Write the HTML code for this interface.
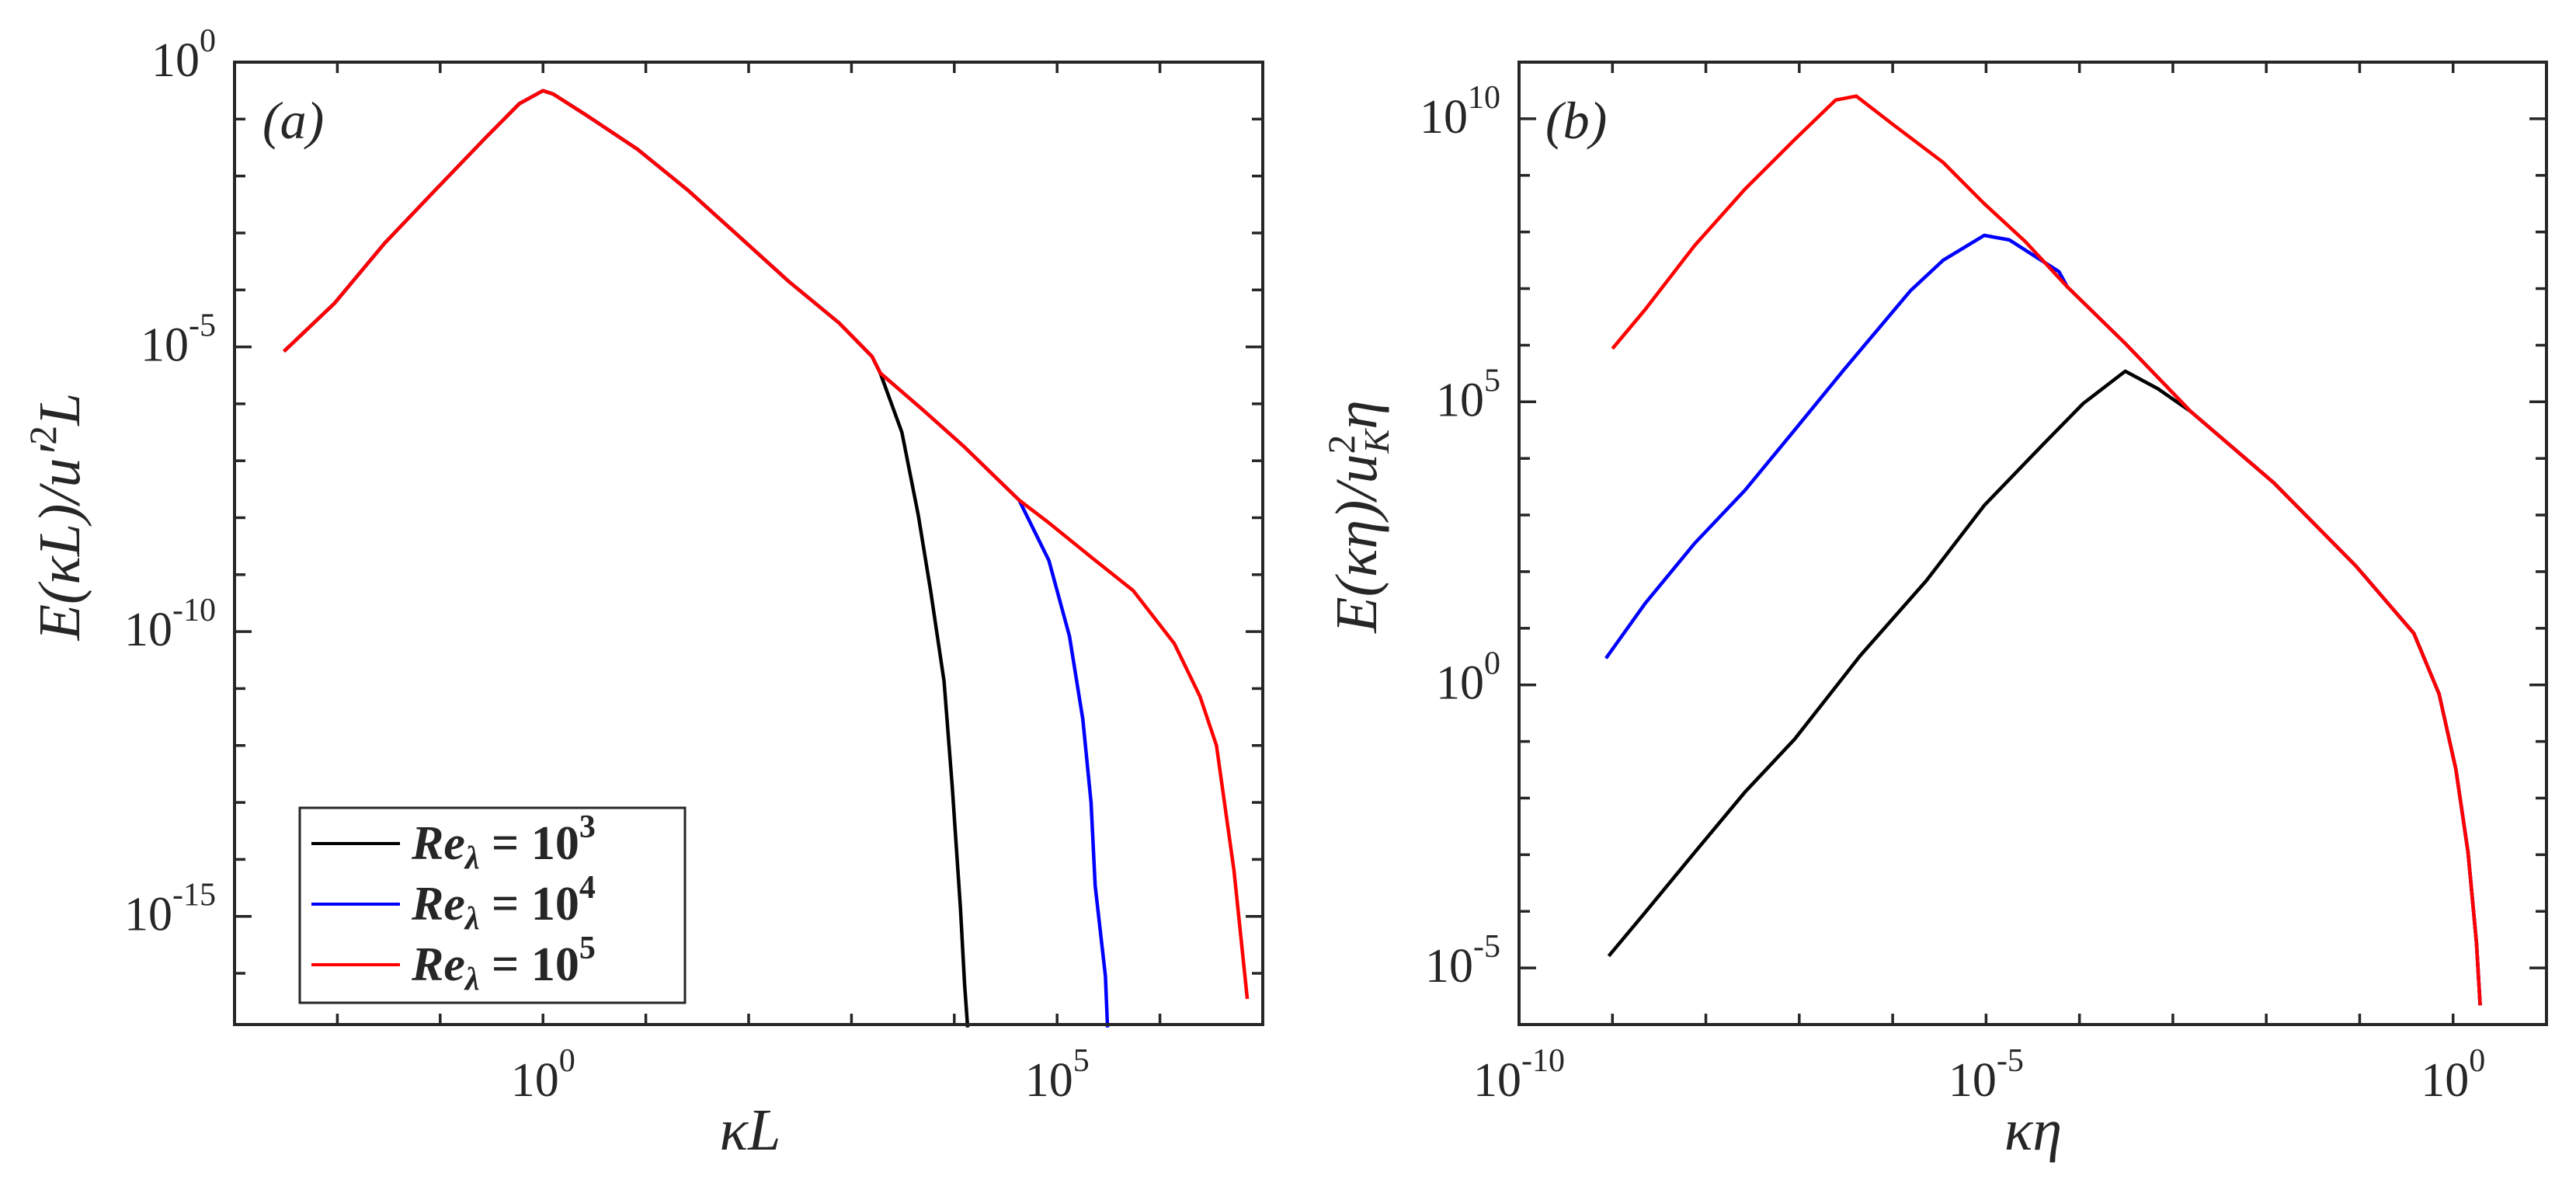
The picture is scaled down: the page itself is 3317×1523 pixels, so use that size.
<!DOCTYPE html>
<html><head><meta charset="utf-8"><style>
html,body{margin:0;padding:0;background:#fff;}
svg{display:block;}
text{font-family:"Liberation Serif","DejaVu Serif",serif;fill:#262626;}
</style></head><body>
<svg id="chart" width="3317" height="1523" viewBox="0 0 3317 1523" xmlns="http://www.w3.org/2000/svg"></svg>
<script>
// ---- Panel (a) data: log10(kL), log10(E) ----
const aRedX = [-2.52,-2.03,-1.54,-1.05,-0.56,-0.23,0,0.1,0.42,0.92,1.41,1.90,2.39,2.88,3.20,3.28,3.69,4.10,4.63,4.92,5.33,5.74,6.14,6.39,6.55,6.72,6.85];
const aRedY = [-5.08,-4.24,-3.18,-2.25,-1.33,-0.73,-0.50,-0.56,-0.93,-1.53,-2.25,-3.05,-3.85,-4.58,-5.17,-5.46,-6.10,-6.76,-7.69,-8.09,-8.69,-9.28,-10.21,-11.14,-12.0,-14.19,-16.45];
const aBlackX = [-2.52,-2.03,-1.54,-1.05,-0.56,-0.23,0,0.1,0.42,0.92,1.41,1.90,2.39,2.88,3.20,3.28,3.49,3.65,3.77,3.90,3.98,4.06,4.10,4.13];
const aBlackY = [-5.08,-4.24,-3.18,-2.25,-1.33,-0.73,-0.50,-0.56,-0.93,-1.53,-2.25,-3.05,-3.85,-4.58,-5.17,-5.46,-6.5,-7.96,-9.28,-10.87,-12.73,-14.85,-16.18,-16.95];
const aBlueX = [-2.52,-2.03,-1.54,-1.05,-0.56,-0.23,0,0.1,0.42,0.92,1.41,1.90,2.39,2.88,3.20,3.28,3.69,4.10,4.63,4.92,5.12,5.25,5.33,5.37,5.47,5.49];
const aBlueY = [-5.08,-4.24,-3.18,-2.25,-1.33,-0.73,-0.50,-0.56,-0.93,-1.53,-2.25,-3.05,-3.85,-4.58,-5.17,-5.46,-6.10,-6.76,-7.69,-8.75,-10.08,-11.54,-13.0,-14.46,-16.05,-16.95];
// ---- Panel (b) data: log10(k eta), log10(E) ----
const tailX = [-3.51,-2.81,-1.92,-1.04,-0.42,-0.15,0.03,0.16,0.25,0.29];
const tailY = [6.03,4.83,3.57,2.10,0.91,-0.16,-1.49,-2.96,-4.55,-5.66];
const bRedX = [-9.0,-8.65,-8.12,-7.58,-7.05,-6.61,-6.39,-5.99,-5.46,-5.02,-4.58,-4.13].concat(tailX);
const bRedY = [5.94,6.63,7.76,8.76,9.63,10.33,10.40,9.89,9.23,8.50,7.83,7.03].concat(tailY);
const bBlueX = [-9.07,-8.65,-8.12,-7.58,-7.05,-6.52,-5.81,-5.46,-5.02,-4.75,-4.22,-4.13].concat(tailX);
const bBlueY = [0.47,1.44,2.50,3.44,4.50,5.57,6.96,7.50,7.94,7.86,7.30,7.03].concat(tailY);
const bBlackX = [-9.04,-8.65,-8.12,-7.58,-7.05,-6.35,-5.64,-5.02,-4.40,-3.96,-3.51,-3.16,-2.81,-1.92,-1.04,-0.42,-0.15,0.03,0.16,0.25,0.29];
const bBlackY = [-4.79,-4.02,-2.96,-1.89,-0.96,0.51,1.84,3.17,4.23,4.97,5.54,5.23,4.83,3.57,2.10,0.91,-0.16,-1.49,-2.96,-4.55,-5.66];
const aXTickLabels = [0,5];
const aYTickLabels = [0,-5,-10,-15];
const bXTickLabels = [-10,-5,0];
const bYTickLabels = [10,5,0,-5];

const NS = "http://www.w3.org/2000/svg";
const svg = document.getElementById('chart');
function mk(tag, attrs, parent){ const e=document.createElementNS(NS,tag); for(const k in attrs) e.setAttribute(k,attrs[k]); (parent||svg).appendChild(e); return e; }

function panel(cfg){
  const g = mk('g',{});
  
  
  const sx = v => cfg.x0 + (v-cfg.xmin)/(cfg.xmax-cfg.xmin)*(cfg.x1-cfg.x0);
  const sy = v => cfg.y1 - (v-cfg.ymin)/(cfg.ymax-cfg.ymin)*(cfg.y1-cfg.y0);
  // ticks
  const tk = mk('g',{stroke:'#262626','stroke-width':3.5}, g);
  
  
  for(let d=Math.ceil(cfg.xmin); d<=cfg.xmax; d++){
    const x=sx(d);
    mk('line',{x1:x,x2:x,y1:cfg.y1,y2:cfg.y1-14},tk);
    mk('line',{x1:x,x2:x,y1:cfg.y0,y2:cfg.y0+14},tk);
  }
  for(let d=Math.ceil(cfg.ymin); d<=cfg.ymax; d++){
    const y=sy(d); const L = (d%5===0)?22:14;
    mk('line',{x1:cfg.x0,x2:cfg.x0+L,y1:y,y2:y},tk);
    mk('line',{x1:cfg.x1,x2:cfg.x1-L,y1:y,y2:y},tk);
  }
  // tick labels
  cfg.xt.forEach(d=>{
    const t = mk('text',{x:sx(d),y:cfg.y1+92,'font-size':62,'text-anchor':'middle'},g);
    
    
    t.appendChild(document.createTextNode('10'));
    const s = mk('tspan',{'font-size':42,dy:-32},t); s.textContent = String(d).replace('-','-');
  });
  cfg.yt.forEach(d=>{
    const t = mk('text',{x:cfg.x0-24,y:sy(d)+18,'font-size':62,'text-anchor':'end'},g);
    
    
    t.appendChild(document.createTextNode('10'));
    const s = mk('tspan',{'font-size':42,dy:-32},t); s.textContent = String(d);
  });
  // series
  cfg.series.forEach(s=>{
    const pts = s.x.map((v,i)=>sx(v).toFixed(1)+','+sy(s.y[i]).toFixed(1)).join(' ');
    const p = mk('polyline',{points:pts,fill:'none',stroke:s.c,'stroke-width':4.5,'stroke-linejoin':'round'},g);
    
    
  });
  const box = mk('rect',{x:cfg.x0,y:cfg.y0,width:cfg.x1-cfg.x0,height:cfg.y1-cfg.y0,fill:'none',stroke:'#262626','stroke-width':4},g);
  
  
  return g;
}

panel({name:'panel-a', x0:302,x1:1626,y0:80,y1:1319, xmin:-3,xmax:7,ymin:-16.9,ymax:0,
  xt:aXTickLabels, yt:aYTickLabels,
  series:[{n:'line-re-1e3',x:aBlackX,y:aBlackY,c:'#000'},{n:'line-re-1e4',x:aBlueX,y:aBlueY,c:'#0000ff'},{n:'line-re-1e5',x:aRedX,y:aRedY,c:'#ff0000'}]});
panel({name:'panel-b', x0:1956,x1:3279,y0:80,y1:1319, xmin:-10,xmax:1,ymin:-6,ymax:11,
  xt:bXTickLabels, yt:bYTickLabels,
  series:[{n:'line-b-re-1e3',x:bBlackX,y:bBlackY,c:'#000'},{n:'line-b-re-1e4',x:bBlueX,y:bBlueY,c:'#0000ff'},{n:'line-b-re-1e5',x:bRedX,y:bRedY,c:'#ff0000'}]});
</script>
<svg style="position:absolute;left:0;top:0" width="3317" height="1523" xmlns="http://www.w3.org/2000/svg">
  <text x="338" y="178" font-size="68" font-style="italic">(a)</text>
  <text x="1990" y="178" font-size="68" font-style="italic">(b)</text>
  <text x="966" y="1480" font-size="76" font-style="italic" text-anchor="middle">κL</text>
  <text x="2618" y="1480" font-size="76" font-style="italic" text-anchor="middle">κη</text>
  <text transform="translate(102,665) rotate(-90)" font-size="76" font-style="italic" text-anchor="middle">E(κL)/u′<tspan font-size="50" dy="-30" font-style="normal">2</tspan><tspan dy="30">L</tspan></text>
  <text transform="translate(1772,665) rotate(-90)" font-size="76" font-style="italic" text-anchor="middle">E(κη)/u<tspan font-size="50" dy="-28" font-style="normal">2</tspan><tspan font-size="46" dy="44" dx="-24">K</tspan><tspan dy="-16">η</tspan></text>
  <g>
    <rect x="386" y="1040" width="496" height="251" fill="#fff" stroke="#262626" stroke-width="3"/>
    <line x1="401" x2="515" y1="1086" y2="1086" stroke="#000" stroke-width="4"/>
    <line x1="401" x2="515" y1="1164" y2="1164" stroke="#0000ff" stroke-width="4"/>
    <line x1="401" x2="515" y1="1242" y2="1242" stroke="#ff0000" stroke-width="4"/>
    <text x="530" y="1106" font-size="62" font-weight="bold"><tspan font-style="italic">Re</tspan><tspan font-size="42" dy="12" font-style="italic">λ</tspan><tspan dy="-12"> = 10</tspan><tspan font-size="42" dy="-28">3</tspan></text>
    <text x="530" y="1184" font-size="62" font-weight="bold"><tspan font-style="italic">Re</tspan><tspan font-size="42" dy="12" font-style="italic">λ</tspan><tspan dy="-12"> = 10</tspan><tspan font-size="42" dy="-28">4</tspan></text>
    <text x="530" y="1262" font-size="62" font-weight="bold"><tspan font-style="italic">Re</tspan><tspan font-size="42" dy="12" font-style="italic">λ</tspan><tspan dy="-12"> = 10</tspan><tspan font-size="42" dy="-28">5</tspan></text>
  </g>
</svg>
</body></html>
